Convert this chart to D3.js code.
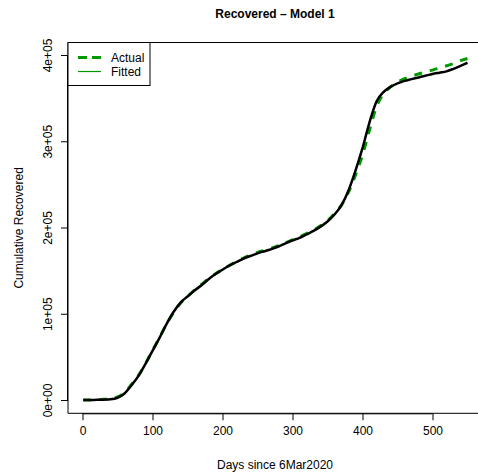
<!DOCTYPE html>
<html>
<head>
<meta charset="utf-8">
<script src="https://cdn.jsdelivr.net/npm/d3@7"></script>
<style>
  body { margin: 0; background: #fff; overflow: hidden; }
  svg { display: block; overflow: hidden; }
  text { font-family: "Liberation Sans", Arial, sans-serif; }
</style>
</head>
<body>
<svg id="chart"></svg>
<script>
// days since 6Mar2020
var days = [1, 10, 20, 30, 40, 50, 60, 70, 80, 90, 100, 110, 120, 130, 140, 150, 160, 170, 180, 190,
    200, 210, 220, 230, 240, 250, 260, 270, 280, 290, 300, 310, 320, 330, 340, 350, 360, 370, 380, 390,
    400, 410, 420, 430, 440, 450, 460, 470, 480, 490, 500, 510, 520, 530, 540, 550];

var actual = [0, 0, 300, 800, 1200, 3500, 8500, 18000, 28500, 42000, 57500, 72500, 88000, 101000, 112000, 120000, 127500, 134000, 140500, 146500,
    151500, 156000, 160500, 164500, 168000, 171000, 173500, 176000, 179000, 182500, 185500, 189000, 193000, 197000, 202000, 208000, 216000, 226000, 241000, 261000,
    284000, 313000, 340000, 355000, 363000, 368500, 372500, 375500, 378000, 380500, 382500, 385000, 387500, 390000, 393500, 396000];

var fitted = [0, 0, 200, 400, 800, 2500, 7500, 17000, 28000, 42000, 57000, 72000, 88000, 102000, 113000, 120000, 127000, 133000, 140000, 146000,
    151000, 156000, 160000, 164000, 167000, 170000, 172500, 175000, 178000, 181500, 185000, 188000, 192000, 196000, 201000, 207000, 215000, 226000, 243000, 266000,
    292000, 322000, 346000, 357000, 363000, 367000, 370000, 372000, 374000, 376000, 378000, 379500, 381000, 384000, 387500, 391000];

var xTicks = [0, 100, 200, 300, 400, 500];
var yTicks = [0, 100000, 200000, 300000, 400000];
var yTickLabels = ["0e+00", "1e+05", "2e+05", "3e+05", "4e+05"];

var size = { width: 478, height: 475 };
var box = { left: 68, top: 42.5, bottom: 413.3 };

var svg = d3.select("#chart")
    .attr("width", size.width)
    .attr("height", size.height);

var x = d3.scaleLinear().domain([0, 500]).range([82.5, 432.5]);
var y = d3.scaleLinear().domain([0, 400000]).range([400, 55]);

// plot frame: right side runs off the picture, so only left, top and bottom edges
svg.append("path")
    .attr("d", "M" + (size.width + 10) + "," + box.top + "H" + box.left + "V" + box.bottom + "H" + (size.width + 10))
    .attr("fill", "none")
    .attr("stroke", "#000")
    .attr("stroke-width", 1);

// axes
var xAxis = d3.axisBottom(x).tickValues(xTicks).tickSize(7).tickPadding(6).tickFormat(d3.format("d"));
var gx = svg.append("g")
    .attr("transform", "translate(0," + box.bottom + ")")
    .call(xAxis);
gx.select(".domain").attr("d", "M" + x(0) + ",0.5H" + x(500));
gx.selectAll("text").style("font-size", "12px").attr("fill", "#000");

var yAxis = d3.axisLeft(y).tickValues(yTicks).tickSize(7).tickFormat(function(d, i) { return yTickLabels[i]; });
var gy = svg.append("g")
    .attr("transform", "translate(" + box.left + ",0)")
    .call(yAxis);
gy.select(".domain").attr("d", "M-0.5," + y(0) + "V" + y(400000));
gy.selectAll("text")
    .style("font-size", "12px")
    .attr("fill", "#000")
    .attr("x", null).attr("dy", null)
    .attr("text-anchor", "middle")
    .attr("transform", "translate(-16,0) rotate(-90)");

// series
var data = days.map(function(d, i) { return { day: d, actual: actual[i], fitted: fitted[i] }; });

svg.append("path")
    .datum(data)
    .attr("fill", "none")
    .attr("stroke", "#009a00")
    .attr("stroke-width", 3)
    .attr("stroke-dasharray", "8,8")
    .attr("d", d3.line().curve(d3.curveMonotoneX).x(d => x(d.day)).y(d => y(d.actual)));

svg.append("path")
    .datum(data)
    .attr("fill", "none")
    .attr("stroke", "#000")
    .attr("stroke-width", 2.5)
    .attr("d", d3.line().curve(d3.curveMonotoneX).x(d => x(d.day)).y(d => y(d.fitted)));

// legend
var legend = svg.append("g");
legend.append("rect")
    .attr("x", box.left).attr("y", box.top)
    .attr("width", 82).attr("height", 43)
    .attr("fill", "#fff").attr("stroke", "#000");
legend.append("line")
    .attr("x1", 78).attr("x2", 101).attr("y1", 57.5).attr("y2", 57.5)
    .attr("stroke", "#009a00").attr("stroke-width", 3).attr("stroke-dasharray", "9,5");
legend.append("line")
    .attr("x1", 78).attr("x2", 101).attr("y1", 71.5).attr("y2", 71.5)
    .attr("stroke", "#009a00").attr("stroke-width", 1.2);
legend.append("text").attr("x", 111).attr("y", 61.8).style("font-size", "12px").text("Actual");
legend.append("text").attr("x", 111).attr("y", 75.8).style("font-size", "12px").text("Fitted");

// titles
svg.append("text")
    .attr("x", 275).attr("y", 18)
    .attr("text-anchor", "middle")
    .style("font-size", "12px").style("font-weight", "bold")
    .text("Recovered \u2013 Model 1");

svg.append("text")
    .attr("x", 275).attr("y", 469)
    .attr("text-anchor", "middle")
    .style("font-size", "12px")
    .text("Days since 6Mar2020");

svg.append("text")
    .attr("transform", "translate(22.5," + ((box.top + box.bottom) / 2) + ") rotate(-90)")
    .attr("text-anchor", "middle")
    .style("font-size", "12px")
    .text("Cumulative Recovered");
</script>
</body>
</html>
